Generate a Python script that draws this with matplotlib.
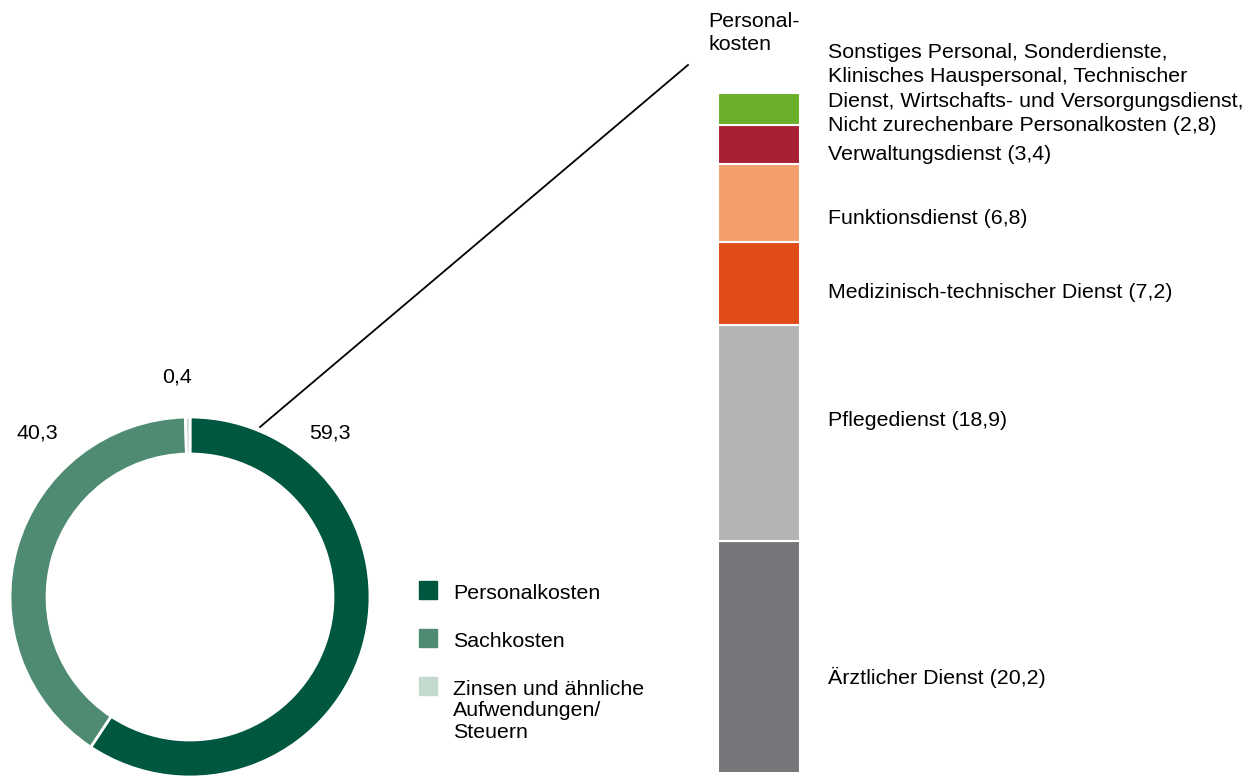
import matplotlib.pyplot as plt
from matplotlib.patches import Rectangle

plt.rcParams['font.family'] = ['Liberation Sans', 'DejaVu Sans']

# donut: share of total costs
cost_labels = ['Personalkosten', 'Sachkosten', 'Zinsen und ähnliche\nAufwendungen/\nSteuern']
cost_values = [59.3, 40.3, 0.4]
cost_texts = ['59,3', '40,3', '0,4']
cost_colors = ['#00573f', '#4f8b72', '#c3d9cd']

# stacked bar: breakdown of Personalkosten (bottom to top)
staff_labels = ['Ärztlicher Dienst (20,2)', 'Pflegedienst (18,9)',
                'Medizinisch-technischer Dienst (7,2)', 'Funktionsdienst (6,8)',
                'Verwaltungsdienst (3,4)',
                'Sonstiges Personal, Sonderdienste,\nKlinisches Hauspersonal, Technischer\n'
                'Dienst, Wirtschafts- und Versorgungsdienst,\nNicht zurechenbare Personalkosten (2,8)']
staff_values = [20.2, 18.9, 7.2, 6.8, 3.4, 2.8]
staff_colors = ['#76777a', '#b3b4b6', '#e04b17', '#f29f6b', '#a82035', '#6ab02a']

fig = plt.figure(figsize=(12.6, 7.76), dpi=100)
ax = fig.add_axes([0, 0, 1, 1])

# donut (y axis is flipped below, so start at -90 and go "counterclock" = clockwise on screen)
ax.pie(cost_values, colors=cost_colors, startangle=-90, counterclock=True,
       center=(190, 597), radius=180, frame=True,
       wedgeprops=dict(width=37, edgecolor='white', linewidth=2))
ax.set_xlim(0, 1260)
ax.set_ylim(776, 0)
ax.set_aspect('equal')
ax.axis('off')

fs = 15.4
ax.text(330, 433, cost_texts[0], fontsize=fs, ha='center', va='center')
ax.text(37, 433, cost_texts[1], fontsize=fs, ha='center', va='center')
ax.text(177, 377, cost_texts[2], fontsize=fs, ha='center', va='center')

# legend
for i, (lab, col) in enumerate(zip(cost_labels, cost_colors)):
    y = 590 + i * 48
    ax.add_patch(Rectangle((419, y - 9), 18, 18, color=col))
    ax.text(453, y - 6, lab, fontsize=fs, ha='left', va='top', linespacing=1.15)

# stacked bar (px per unit from total height)
scale = 680 / sum(staff_values)
bottom = 773
for v, c in zip(staff_values, staff_colors):
    h = v * scale
    ax.bar(759, -h, width=82, bottom=bottom, color=c, edgecolor='white', linewidth=1.5)
    bottom -= h

label_y = [677, 420, 293, 218, 154, 89]
for lab, y in zip(staff_labels, label_y):
    ax.text(828, y, lab, fontsize=fs, ha='left', va='center', linespacing=1.36)

ax.text(708, 33, 'Personal-\nkosten', fontsize=fs, ha='left', va='center', linespacing=1.33)

# connector
ax.plot([260, 688], [427, 65], color='black', linewidth=1.3)

fig.savefig('out.png', dpi=100)
